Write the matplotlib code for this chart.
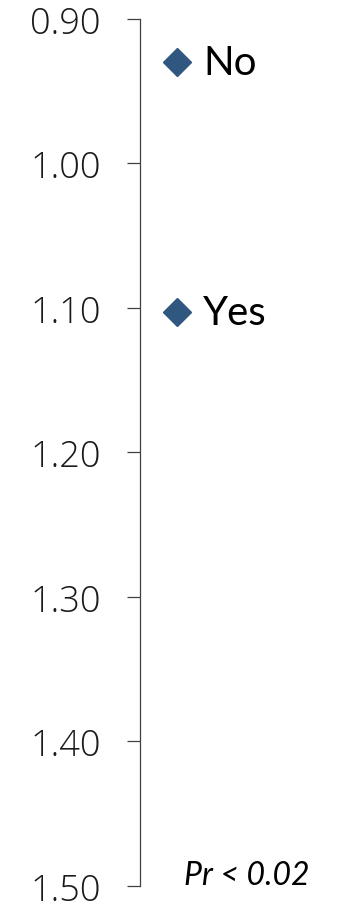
import matplotlib.pyplot as plt

# group labels and their estimated ratios
groups = ["No", "Yes"]
ratios = [0.93, 1.103]
ticks = [0.90, 1.00, 1.10, 1.20, 1.30, 1.40, 1.50]
note = "Pr < 0.02"

plt.rcParams['font.family'] = ['Lato', 'DejaVu Sans']

fig = plt.figure(figsize=(3.39, 9.03), dpi=100)
ax = fig.add_axes([140 / 339, 1 - 886.7 / 903, 199 / 339, 866.7 / 903])

xpos = 0.184
for g, r in zip(groups, ratios):
    ax.plot(xpos, r, marker='D', markersize=14.5, color='#2F5780',
            markeredgecolor='#2F5780', linestyle='none', clip_on=False)
    ax.annotate(g, (xpos, r), xytext=(19, 0), textcoords='offset points',
                va='center', ha='left', fontsize=29, color='black')

ax.set_xlim(0, 1)
ax.set_ylim(1.50, 0.90)
ax.set_yticks(ticks)
ax.set_yticklabels([f"{t:.2f}" for t in ticks], family='Open Sans', fontweight='light')
ax.tick_params(axis='y', direction='out', length=9.4, width=0.9, color='#404040',
               pad=19, labelsize=26, labelcolor='#1a1a1a')
ax.set_xticks([])
for s in ['top', 'right', 'bottom']:
    ax.spines[s].set_visible(False)
ax.spines['left'].set_color('#404040')
ax.spines['left'].set_linewidth(0.9)

ax.text(0.535, 0.012, note, transform=ax.transAxes, ha='center', va='center',
        fontsize=23, style='italic', color='black')

fig.savefig('out.png', dpi=100)
